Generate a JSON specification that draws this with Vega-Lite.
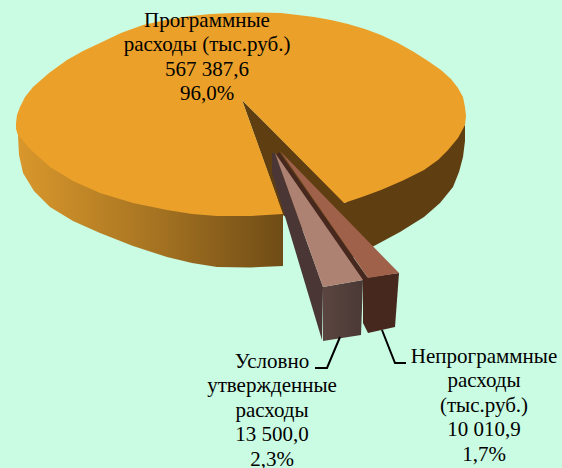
{"$schema":"https://vega.github.io/schema/vega-lite/v6.json","width":562,"height":468,"padding":0,"autosize":{"type":"none"},"background":"#CAFCE3","view":{"stroke":null},
"datasets":{"outlines":[
{"part":"wallL","i":1,"x":16,"y":123},{"part":"wallL","i":2,"x":18,"y":135},{"part":"wallL","i":3,"x":19,"y":155},{"part":"wallL","i":4,"x":23,"y":173},{"part":"wallL","i":5,"x":34,"y":191},{"part":"wallL","i":6,"x":50,"y":207},{"part":"wallL","i":7,"x":73,"y":221},{"part":"wallL","i":8,"x":100,"y":233},{"part":"wallL","i":9,"x":133,"y":246},{"part":"wallL","i":10,"x":167,"y":257},{"part":"wallL","i":11,"x":192,"y":263},{"part":"wallL","i":12,"x":217,"y":267},{"part":"wallL","i":13,"x":250,"y":267.5},{"part":"wallL","i":14,"x":283,"y":266},{"part":"wallL","i":15,"x":283,"y":200},{"part":"wallL","i":16,"x":200,"y":200},
{"part":"wallR","i":1,"x":242,"y":100},{"part":"wallR","i":2,"x":345,"y":203},{"part":"wallR","i":3,"x":465,"y":125},{"part":"wallR","i":4,"x":465,"y":141},{"part":"wallR","i":5,"x":463,"y":157},{"part":"wallR","i":6,"x":459,"y":172},{"part":"wallR","i":7,"x":453,"y":187},{"part":"wallR","i":8,"x":440,"y":203},{"part":"wallR","i":9,"x":424,"y":217},{"part":"wallR","i":10,"x":400,"y":232},{"part":"wallR","i":11,"x":374,"y":246},{"part":"wallR","i":12,"x":345,"y":262},{"part":"wallR","i":13,"x":283,"y":215},
{"part":"top","i":1,"x":344,"y":203},{"part":"top","i":2,"x":362,"y":197},{"part":"top","i":3,"x":381,"y":190},{"part":"top","i":4,"x":403,"y":180.5},{"part":"top","i":5,"x":424,"y":170},{"part":"top","i":6,"x":438,"y":160},{"part":"top","i":7,"x":448,"y":150},{"part":"top","i":8,"x":458,"y":138},{"part":"top","i":9,"x":465,"y":125},{"part":"top","i":10,"x":466,"y":116},{"part":"top","i":11,"x":465,"y":107},{"part":"top","i":12,"x":463,"y":97},{"part":"top","i":13,"x":458,"y":88},{"part":"top","i":14,"x":451,"y":79},{"part":"top","i":15,"x":441,"y":70},{"part":"top","i":16,"x":428,"y":61},{"part":"top","i":17,"x":414,"y":52},{"part":"top","i":18,"x":398,"y":43},{"part":"top","i":19,"x":381,"y":35},{"part":"top","i":20,"x":365,"y":29},{"part":"top","i":21,"x":348,"y":24},{"part":"top","i":22,"x":331,"y":20},{"part":"top","i":23,"x":314,"y":17},{"part":"top","i":24,"x":298,"y":15},{"part":"top","i":25,"x":281,"y":13},{"part":"top","i":26,"x":257,"y":12.5},{"part":"top","i":27,"x":233,"y":13},{"part":"top","i":28,"x":211,"y":14},{"part":"top","i":29,"x":190,"y":16},{"part":"top","i":30,"x":166,"y":20},{"part":"top","i":31,"x":143,"y":25},{"part":"top","i":32,"x":121,"y":33},{"part":"top","i":33,"x":100,"y":43},{"part":"top","i":34,"x":83,"y":51},{"part":"top","i":35,"x":67,"y":60},{"part":"top","i":36,"x":49,"y":73},{"part":"top","i":37,"x":33,"y":87},{"part":"top","i":38,"x":25,"y":97},{"part":"top","i":39,"x":20,"y":107},{"part":"top","i":40,"x":17,"y":115},{"part":"top","i":41,"x":16,"y":123},{"part":"top","i":42,"x":16,"y":129},{"part":"top","i":43,"x":18,"y":135},{"part":"top","i":44,"x":31,"y":150},{"part":"top","i":45,"x":50,"y":167},{"part":"top","i":46,"x":73,"y":181},{"part":"top","i":47,"x":100,"y":193},{"part":"top","i":48,"x":133,"y":203},{"part":"top","i":49,"x":167,"y":210},{"part":"top","i":50,"x":192,"y":214},{"part":"top","i":51,"x":217,"y":216},{"part":"top","i":52,"x":250,"y":216},{"part":"top","i":53,"x":283,"y":214},{"part":"top","i":54,"x":242,"y":100},
{"part":"nepFront","i":1,"x":363,"y":278},{"part":"nepFront","i":2,"x":399,"y":273},{"part":"nepFront","i":3,"x":395,"y":327},{"part":"nepFront","i":4,"x":368,"y":333},{"part":"nepFront","i":5,"x":363,"y":323},
{"part":"nepInner","i":1,"x":279,"y":152},{"part":"nepInner","i":2,"x":368,"y":278},{"part":"nepInner","i":3,"x":363,"y":281},{"part":"nepInner","i":4,"x":276,"y":155},
{"part":"nepTop","i":1,"x":280,"y":151},{"part":"nepTop","i":2,"x":399,"y":273},{"part":"nepTop","i":3,"x":368,"y":278},
{"part":"uslInner","i":1,"x":272,"y":153},{"part":"uslInner","i":2,"x":272,"y":173},{"part":"uslInner","i":3,"x":322,"y":340},{"part":"uslInner","i":4,"x":323,"y":287},{"part":"uslInner","i":5,"x":275,"y":153},
{"part":"uslFront","i":1,"x":323,"y":287},{"part":"uslFront","i":2,"x":363,"y":280},{"part":"uslFront","i":3,"x":361,"y":335},{"part":"uslFront","i":4,"x":323,"y":341},
{"part":"uslTop","i":1,"x":275,"y":153},{"part":"uslTop","i":2,"x":363,"y":280},{"part":"uslTop","i":3,"x":323,"y":287},
{"part":"leadL","i":1,"x":340,"y":337},{"part":"leadL","i":2,"x":327,"y":368},{"part":"leadL","i":3,"x":315,"y":368},
{"part":"leadR","i":1,"x":382,"y":330},{"part":"leadR","i":2,"x":395,"y":363},{"part":"leadR","i":3,"x":406,"y":363}
],
"slices":[
{"category":"Программные расходы (тыс.руб.)","value":567387.6,"share":96.0,"label":"Программные\nрасходы (тыс.руб.)\n567 387,6\n96,0%","x":207,"y":10},
{"category":"Условно утвержденные расходы","value":13500.0,"share":2.3,"label":"Условно\nутвержденные\nрасходы\n13 500,0\n2,3%","x":272,"y":351},
{"category":"Непрограммные расходы (тыс.руб.)","value":10010.9,"share":1.7,"label":"Непрограммные\nрасходы\n(тыс.руб.)\n10 010,9\n1,7%","x":484,"y":346}
]},
"encoding":{"x":{"field":"x","type":"quantitative","scale":{"domain":[0,562]},"axis":null},"y":{"field":"y","type":"quantitative","scale":{"domain":[468,0]},"axis":null}},
"layer":[
{"data":{"name":"outlines"},"transform":[{"filter":"datum.part==='wallL'"}],"mark":{"type":"line","stroke":null,"fill":{"gradient":"linear","x1":0,"y1":0,"x2":1,"y2":0,"stops":[{"offset":0,"color":"#DA982C"},{"offset":0.5,"color":"#A87522"},{"offset":1,"color":"#6F4C16"}]}},"encoding":{"order":{"field":"i"}}},
{"data":{"name":"outlines"},"transform":[{"filter":"datum.part==='wallR'"}],"mark":{"type":"line","stroke":null,"fill":"#5F3F12"},"encoding":{"order":{"field":"i"}}},
{"data":{"name":"outlines"},"transform":[{"filter":"datum.part==='top'"}],"mark":{"type":"line","stroke":null,"fill":"#EBA02A"},"encoding":{"order":{"field":"i"}}},
{"data":{"name":"outlines"},"transform":[{"filter":"datum.part==='nepFront'"}],"mark":{"type":"line","stroke":null,"fill":"#46281E"},"encoding":{"order":{"field":"i"}}},
{"data":{"name":"outlines"},"transform":[{"filter":"datum.part==='nepInner'"}],"mark":{"type":"line","stroke":null,"fill":"#46281E"},"encoding":{"order":{"field":"i"}}},
{"data":{"name":"outlines"},"transform":[{"filter":"datum.part==='nepTop'"}],"mark":{"type":"line","stroke":null,"fill":"#A0614A"},"encoding":{"order":{"field":"i"}}},
{"data":{"name":"outlines"},"transform":[{"filter":"datum.part==='uslInner'"}],"mark":{"type":"line","stroke":null,"fill":"#493635"},"encoding":{"order":{"field":"i"}}},
{"data":{"name":"outlines"},"transform":[{"filter":"datum.part==='uslFront'"}],"mark":{"type":"line","stroke":null,"fill":{"gradient":"linear","x1":0,"y1":0,"x2":1,"y2":0,"stops":[{"offset":0,"color":"#5B4540"},{"offset":1,"color":"#4A3935"}]}},"encoding":{"order":{"field":"i"}}},
{"data":{"name":"outlines"},"transform":[{"filter":"datum.part==='uslTop'"}],"mark":{"type":"line","stroke":null,"fill":"#AD8273"},"encoding":{"order":{"field":"i"}}},
{"data":{"name":"outlines"},"transform":[{"filter":"datum.part==='leadL'||datum.part==='leadR'"}],"mark":{"type":"line","stroke":"#000000","strokeWidth":2},"encoding":{"detail":{"field":"part"},"order":{"field":"i"}}},
{"data":{"name":"slices"},"mark":{"type":"text","font":"Liberation Serif","fontSize":21,"lineBreak":"\n","lineHeight":24.4,"align":"center","baseline":"top","color":"#000000"},"encoding":{"text":{"field":"label"}}}
]}
